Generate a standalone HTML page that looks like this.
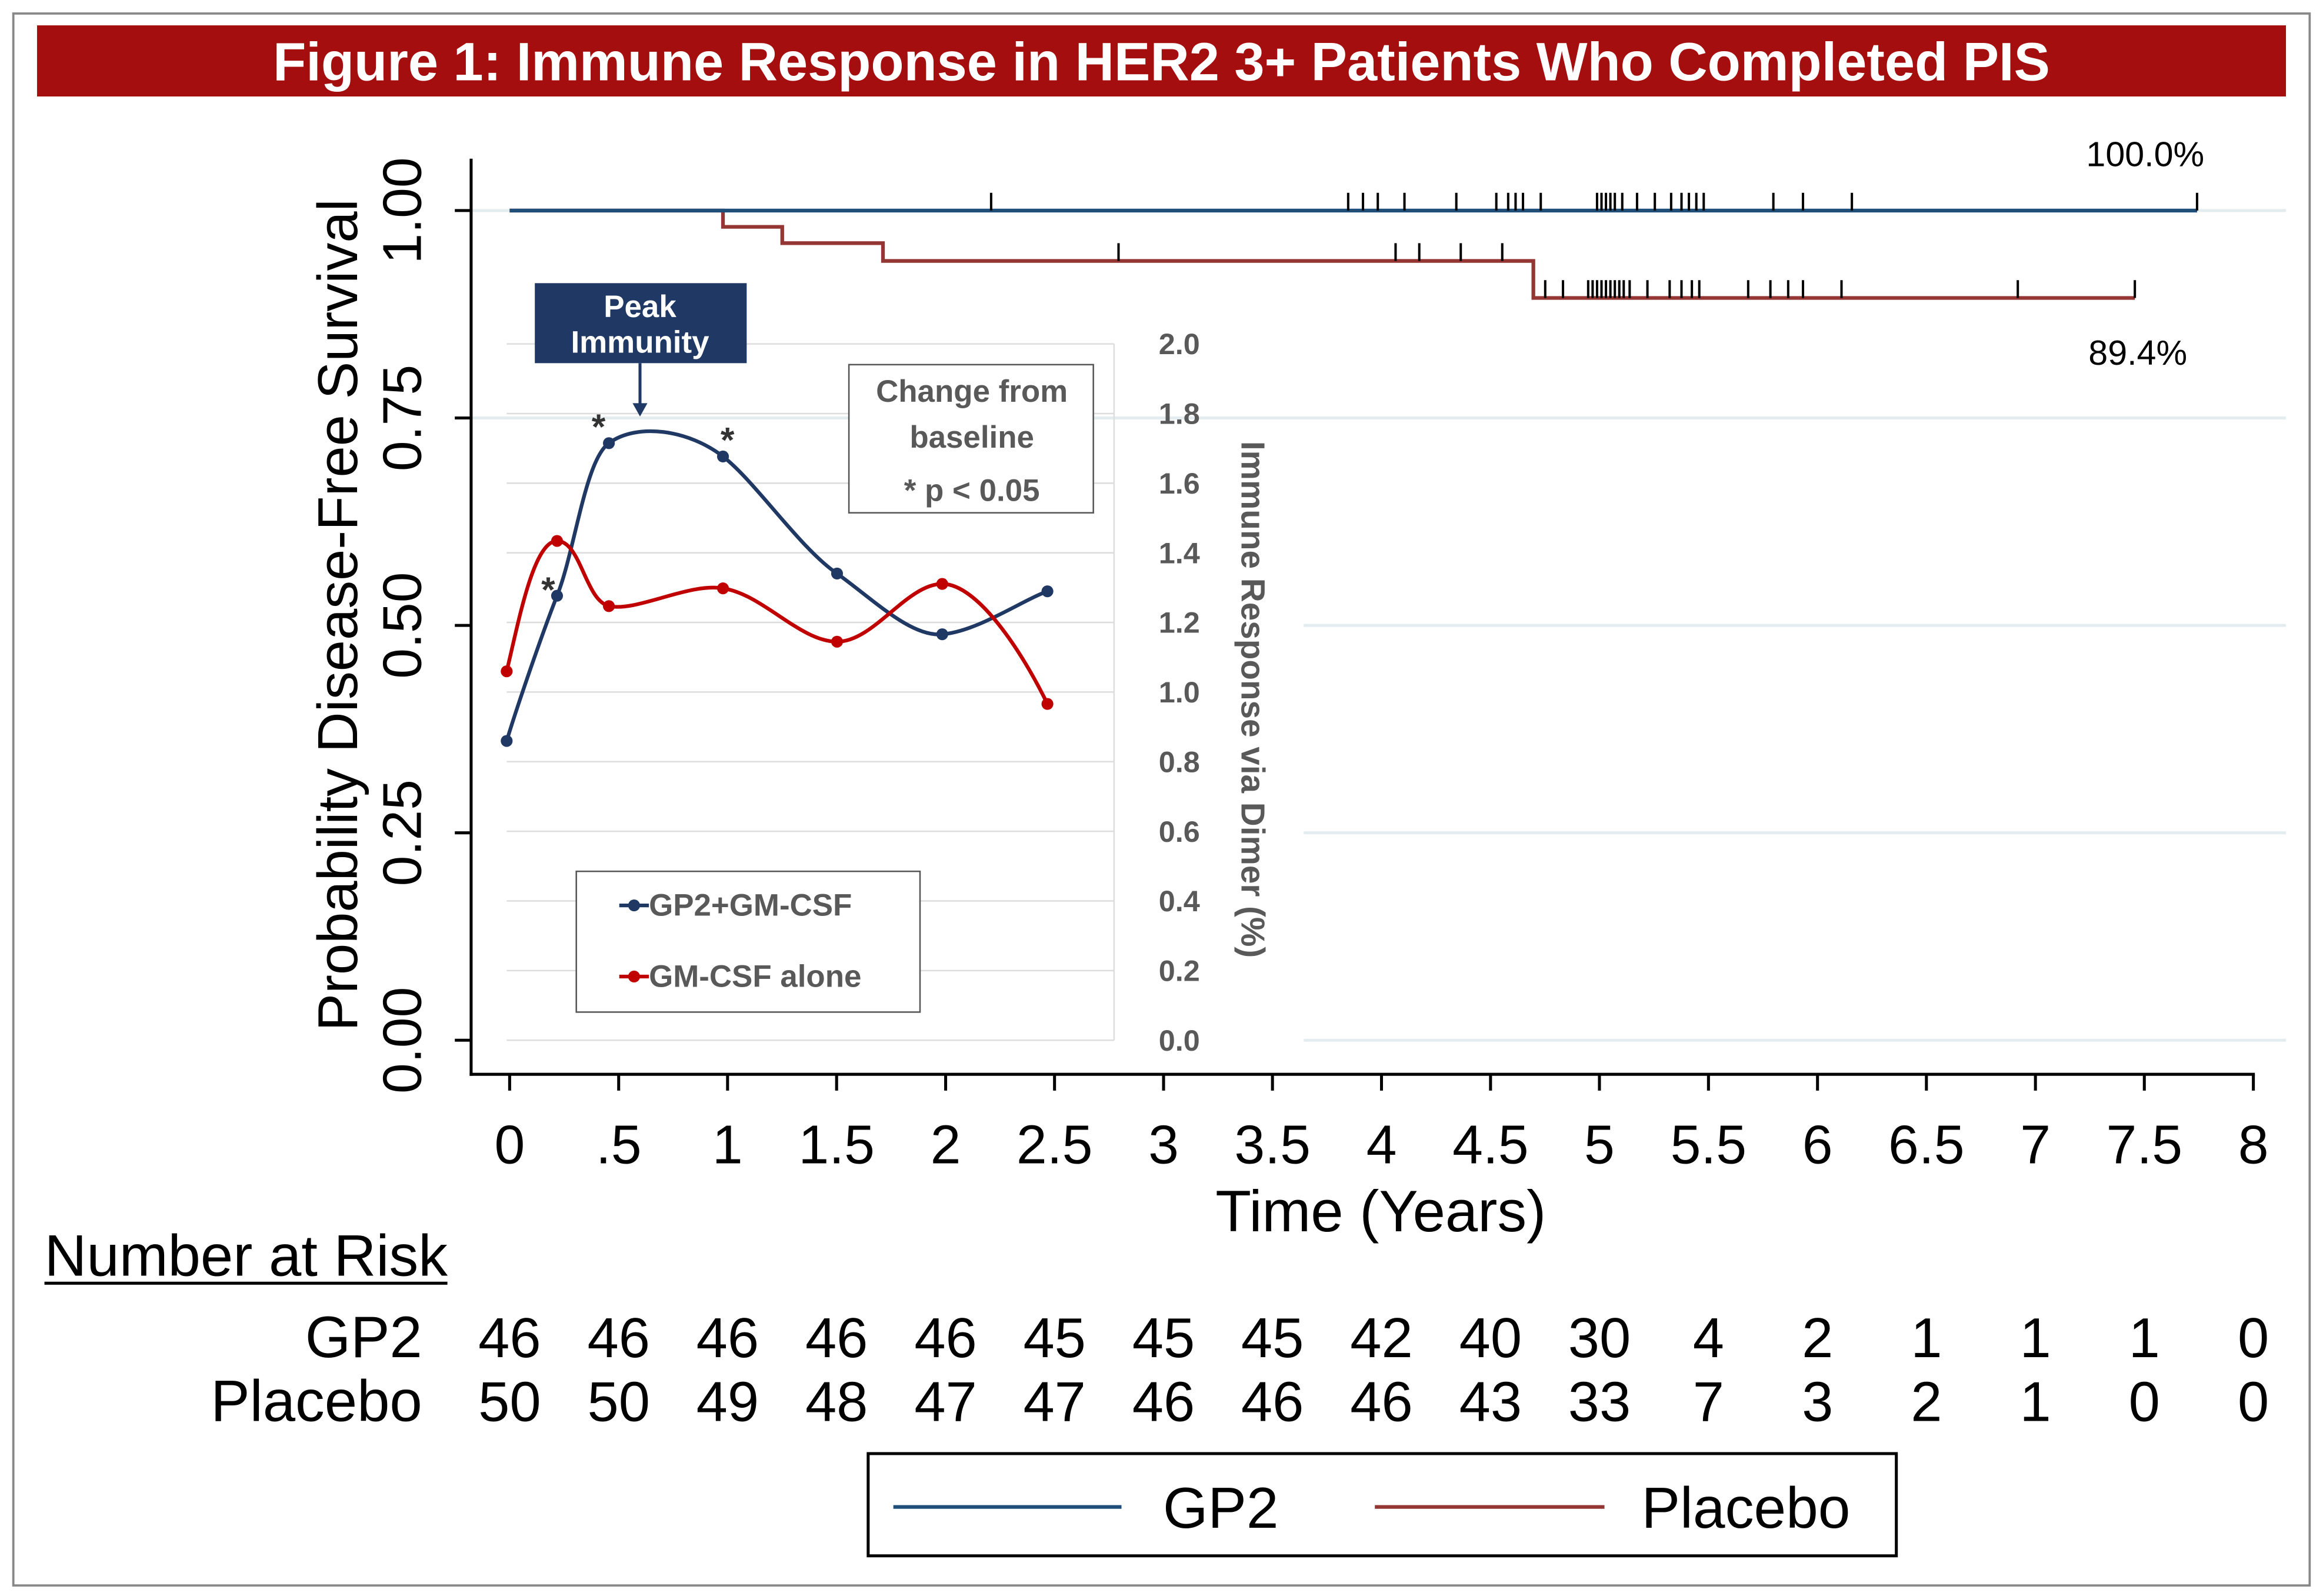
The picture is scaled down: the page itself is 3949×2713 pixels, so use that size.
<!DOCTYPE html>
<html><head><meta charset="utf-8"><style>html,body{margin:0;padding:0;background:#fff}svg{display:block}</style></head>
<body>
<svg width="3949" height="2713" viewBox="0 0 1568 1077" xmlns="http://www.w3.org/2000/svg" font-family="Liberation Sans, Arial, sans-serif">
<rect x="0" y="0" width="1568" height="1077" fill="#fff"/>
<rect x="9" y="9" width="1550" height="1061" fill="none" stroke="#888" stroke-width="1.5"/>
<rect x="25" y="17" width="1518" height="48" fill="#a50e0e"/>
<text x="784" y="54" text-anchor="middle" font-size="36.5" font-weight="bold" fill="#fff">Figure 1: Immune Response in HER2 3+ Patients Who Completed PIS</text>
<g stroke="#e3ecef" stroke-width="2">
<line x1="318" y1="142" x2="1543" y2="142"/><line x1="318" y1="282" x2="1543" y2="282"/>
<line x1="880" y1="422" x2="1543" y2="422"/><line x1="880" y1="562" x2="1543" y2="562"/><line x1="880" y1="702" x2="1543" y2="702"/>
</g>
<g stroke="#ddd" stroke-width="1">
<line x1="342" y1="232" x2="752" y2="232"/><line x1="342" y1="279" x2="752" y2="279"/><line x1="342" y1="326" x2="752" y2="326"/>
<line x1="342" y1="373" x2="752" y2="373"/><line x1="342" y1="420" x2="752" y2="420"/><line x1="342" y1="467" x2="752" y2="467"/>
<line x1="342" y1="514" x2="752" y2="514"/><line x1="342" y1="561" x2="752" y2="561"/><line x1="342" y1="608" x2="752" y2="608"/>
<line x1="342" y1="655" x2="752" y2="655"/><line x1="342" y1="702" x2="752" y2="702"/>
<line x1="752" y1="232" x2="752" y2="702"/>
</g>
<g stroke="#000" stroke-width="2">
<line x1="318" y1="107" x2="318" y2="726"/><line x1="317" y1="725" x2="1522" y2="725"/>
<line x1="307" y1="142" x2="318" y2="142"/><line x1="307" y1="282" x2="318" y2="282"/><line x1="307" y1="422" x2="318" y2="422"/><line x1="307" y1="562" x2="318" y2="562"/><line x1="307" y1="702" x2="318" y2="702"/>
<line x1="344" y1="725" x2="344" y2="736"/><line x1="417.6" y1="725" x2="417.6" y2="736"/><line x1="491.1" y1="725" x2="491.1" y2="736"/><line x1="564.7" y1="725" x2="564.7" y2="736"/><line x1="638.3" y1="725" x2="638.3" y2="736"/><line x1="711.8" y1="725" x2="711.8" y2="736"/><line x1="785.4" y1="725" x2="785.4" y2="736"/><line x1="858.9" y1="725" x2="858.9" y2="736"/><line x1="932.5" y1="725" x2="932.5" y2="736"/><line x1="1006.1" y1="725" x2="1006.1" y2="736"/><line x1="1079.6" y1="725" x2="1079.6" y2="736"/><line x1="1153.2" y1="725" x2="1153.2" y2="736"/><line x1="1226.8" y1="725" x2="1226.8" y2="736"/><line x1="1300.3" y1="725" x2="1300.3" y2="736"/><line x1="1373.9" y1="725" x2="1373.9" y2="736"/><line x1="1447.4" y1="725" x2="1447.4" y2="736"/><line x1="1521" y1="725" x2="1521" y2="736"/>
</g>
<g font-size="37" fill="#000">
<text transform="translate(284,142) rotate(-90)" text-anchor="middle">1.00</text>
<text transform="translate(284,282) rotate(-90)" text-anchor="middle">0.75</text>
<text transform="translate(284,422) rotate(-90)" text-anchor="middle">0.50</text>
<text transform="translate(284,562) rotate(-90)" text-anchor="middle">0.25</text>
<text transform="translate(284,702) rotate(-90)" text-anchor="middle">0.00</text>
<text transform="translate(241,415) rotate(-90)" text-anchor="middle" font-size="38">Probability Disease-Free Survival</text>
</g>
<g font-size="37" text-anchor="middle">
<text x="344" y="785">0</text><text x="417.6" y="785">.5</text><text x="491.1" y="785">1</text><text x="564.7" y="785">1.5</text><text x="638.3" y="785">2</text><text x="711.8" y="785">2.5</text><text x="785.4" y="785">3</text><text x="858.9" y="785">3.5</text><text x="932.5" y="785">4</text><text x="1006.1" y="785">4.5</text><text x="1079.6" y="785">5</text><text x="1153.2" y="785">5.5</text><text x="1226.8" y="785">6</text><text x="1300.3" y="785">6.5</text><text x="1373.9" y="785">7</text><text x="1447.4" y="785">7.5</text><text x="1521" y="785">8</text>
<text x="932" y="831" font-size="39.5">Time (Years)</text>
</g>
<polyline fill="none" stroke="#943634" stroke-width="2.5" points="344,142 488,142 488,153 528,153 528,164 596,164 596,176 1035,176 1035,201 1441,201"/>
<line x1="344" y1="142" x2="1483" y2="142" stroke="#1f4e79" stroke-width="2.5"/>
<path stroke="#000" stroke-width="1.6" d="M669,142v-12M910,142v-12M920,142v-12M930,142v-12M948,142v-12M983,142v-12M1010,142v-12M1018,142v-12M1023,142v-12M1028,142v-12M1040,142v-12M1078,142v-12M1081,142v-12M1084,142v-12M1087,142v-12M1090,142v-12M1095,142v-12M1105,142v-12M1117,142v-12M1128,142v-12M1135,142v-12M1140,142v-12M1145,142v-12M1150,142v-12M1197,142v-12M1217,142v-12M1250,142v-12M1483,142v-12
M755,176v-12M942,176v-12M958,176v-12M986,176v-12M1014,176v-12M1043,201v-12M1055,201v-12M1072,201v-12M1075,201v-12M1078,201v-12M1081,201v-12M1084,201v-12M1087,201v-12M1090,201v-12M1093,201v-12M1096,201v-12M1100,201v-12M1112,201v-12M1127,201v-12M1135,201v-12M1142,201v-12M1147,201v-12M1180,201v-12M1195,201v-12M1207,201v-12M1217,201v-12M1243,201v-12M1362,201v-12M1441,201v-12"/>
<text x="1448" y="112" font-size="23.5" text-anchor="middle">100.0%</text>
<text x="1443" y="246" font-size="23.5" text-anchor="middle">89.4%</text>
<g font-size="20" font-weight="bold" fill="#595959" text-anchor="middle">
<text x="796" y="239">2.0</text><text x="796" y="286">1.8</text><text x="796" y="333">1.6</text><text x="796" y="380">1.4</text><text x="796" y="427">1.2</text><text x="796" y="474">1.0</text><text x="796" y="521">0.8</text><text x="796" y="568">0.6</text><text x="796" y="615">0.4</text><text x="796" y="662">0.2</text><text x="796" y="709">0.0</text>
<text transform="translate(838,472) rotate(90)" font-size="22.5">Immune Response via Dimer (%)</text>
</g>
<path fill="none" stroke="#1f3864" stroke-width="2.5" d="M342,500 C348,480 365,430 376,402 C388,372 395,310 411,299 C430,285 465,290 488,308 C510,325 540,370 565,387 C590,405 615,430 636,428 C660,426 690,405 707,399"/>
<path fill="none" stroke="#c00000" stroke-width="2.5" d="M342,453 C350,420 360,365 376,365 C392,365 395,405 411,409 C430,413 465,393 488,397 C515,401 540,433 565,433 C590,433 612,394 636,394 C660,394 690,440 707,475"/>
<g fill="#1f3864"><circle cx="342" cy="500" r="4"/><circle cx="376" cy="402" r="4"/><circle cx="411" cy="299" r="4"/><circle cx="488" cy="308" r="4"/><circle cx="565" cy="387" r="4"/><circle cx="636" cy="428" r="4"/><circle cx="707" cy="399" r="4"/></g>
<g fill="#c00000"><circle cx="342" cy="453" r="4"/><circle cx="376" cy="365" r="4"/><circle cx="411" cy="409" r="4"/><circle cx="488" cy="397" r="4"/><circle cx="565" cy="433" r="4"/><circle cx="636" cy="394" r="4"/><circle cx="707" cy="475" r="4"/></g>
<g font-size="24" font-weight="bold" fill="#333" text-anchor="middle"><text x="370" y="406">*</text><text x="404" y="296">*</text><text x="491" y="305">*</text></g>
<rect x="361" y="191" width="143" height="54" fill="#1f3864"/>
<text x="432" y="214" font-size="21" font-weight="bold" fill="#fff" text-anchor="middle">Peak</text>
<text x="432" y="238" font-size="21" font-weight="bold" fill="#fff" text-anchor="middle">Immunity</text>
<line x1="432" y1="245" x2="432" y2="274" stroke="#1f3864" stroke-width="2"/><path d="M427,272 L432,281 L437,272Z" fill="#1f3864"/>
<rect x="573" y="246" width="165" height="100" fill="#fff" stroke="#555" stroke-width="1"/>
<g font-size="21" font-weight="bold" fill="#595959" text-anchor="middle"><text x="656" y="271">Change from</text><text x="656" y="302">baseline</text><text x="656" y="338">* p &lt; 0.05</text></g>
<rect x="389" y="588" width="232" height="95" fill="#fff" stroke="#555" stroke-width="1"/>
<line x1="418" y1="611" x2="438" y2="611" stroke="#1f3864" stroke-width="2.5"/><circle cx="428" cy="611" r="4" fill="#1f3864"/>
<line x1="418" y1="659" x2="438" y2="659" stroke="#c00000" stroke-width="2.5"/><circle cx="428" cy="659" r="4" fill="#c00000"/>
<g font-size="21" font-weight="bold" fill="#595959"><text x="438" y="618">GP2+GM-CSF</text><text x="438" y="666">GM-CSF alone</text></g>
<text x="30" y="861" font-size="39.5">Number at Risk</text>
<line x1="30" y1="866" x2="302" y2="866" stroke="#000" stroke-width="2"/>
<g font-size="39.5" text-anchor="end"><text x="285" y="916">GP2</text><text x="285" y="959">Placebo</text></g>
<g font-size="38" text-anchor="middle">
<text y="916"><tspan x="344">46</tspan><tspan x="417.6">46</tspan><tspan x="491.1">46</tspan><tspan x="564.7">46</tspan><tspan x="638.3">46</tspan><tspan x="711.8">45</tspan><tspan x="785.4">45</tspan><tspan x="858.9">45</tspan><tspan x="932.5">42</tspan><tspan x="1006.1">40</tspan><tspan x="1079.6">30</tspan><tspan x="1153.2">4</tspan><tspan x="1226.8">2</tspan><tspan x="1300.3">1</tspan><tspan x="1373.9">1</tspan><tspan x="1447.4">1</tspan><tspan x="1521">0</tspan></text>
<text y="959"><tspan x="344">50</tspan><tspan x="417.6">50</tspan><tspan x="491.1">49</tspan><tspan x="564.7">48</tspan><tspan x="638.3">47</tspan><tspan x="711.8">47</tspan><tspan x="785.4">46</tspan><tspan x="858.9">46</tspan><tspan x="932.5">46</tspan><tspan x="1006.1">43</tspan><tspan x="1079.6">33</tspan><tspan x="1153.2">7</tspan><tspan x="1226.8">3</tspan><tspan x="1300.3">2</tspan><tspan x="1373.9">1</tspan><tspan x="1447.4">0</tspan><tspan x="1521">0</tspan></text>
</g>
<rect x="586" y="981" width="694" height="69" fill="#fff" stroke="#000" stroke-width="2"/>
<line x1="603" y1="1017" x2="757" y2="1017" stroke="#1f4e79" stroke-width="2.5"/>
<line x1="928" y1="1017" x2="1083" y2="1017" stroke="#943634" stroke-width="2.5"/>
<g font-size="39"><text x="785" y="1031">GP2</text><text x="1108" y="1031">Placebo</text></g>
</svg>
</body></html>
